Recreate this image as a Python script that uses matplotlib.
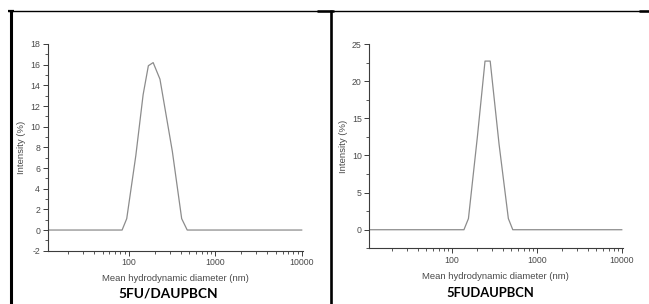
import numpy as np
import matplotlib
matplotlib.use('Agg')
import matplotlib.pyplot as plt
from matplotlib.lines import Line2D
from matplotlib.ticker import LogLocator, FixedLocator, NullFormatter, MultipleLocator

###################################################################################################
# DLS size distributions

# 5FU/DAUPBCN
size_a = [11.6, 30, 60, 84, 95, 121, 147, 169, 192, 230, 320, 410, 475, 1000, 3000, 10000]
intensity_a = [0, 0, 0, 0, 1.1, 7.2, 13.1, 15.9, 16.2, 14.6, 7.6, 1.1, 0, 0, 0, 0]

# 5FUDAUPBCN
size_b = [10.7, 30, 80, 139, 157, 200, 246, 283, 360, 463, 522, 1000, 3000, 10000]
intensity_b = [0, 0, 0, 0, 1.5, 12.5, 22.7, 22.7, 11.5, 1.5, 0, 0, 0, 0]

captions = ['5FU/DAUPBCN', '5FUDAUPBCN']
x_ticks = [100, 1000, 10000]

###################################################################################################

text_grey = '#4a4a4a'
axis_grey = '#3c3c3c'
line_grey = '#8c8c8c'

plt.rcParams['font.family'] = ['Liberation Sans', 'DejaVu Sans']
plt.rcParams['axes.unicode_minus'] = False

fig = plt.figure(figsize=(6.49, 3.04), dpi=100)


def style_axis(ax, xlim, ylim, major_y, minor_y):
    ax.set_xscale('log')
    ax.set_xlim(*xlim)
    ax.set_ylim(*ylim)
    ax.xaxis.set_major_locator(FixedLocator(x_ticks))
    ax.set_xticklabels([str(t) for t in x_ticks])
    ax.xaxis.set_minor_locator(LogLocator(base=10, subs=np.arange(2, 10)))
    ax.xaxis.set_minor_formatter(NullFormatter())
    ax.yaxis.set_major_locator(MultipleLocator(major_y))
    ax.yaxis.set_minor_locator(MultipleLocator(minor_y))
    for side in ['top', 'right']:
        ax.spines[side].set_visible(False)
    for side in ['left', 'bottom']:
        ax.spines[side].set_color(axis_grey)
        ax.spines[side].set_linewidth(0.8)
    ax.tick_params(which='major', direction='out', length=3.5, width=0.7,
                   color=axis_grey, labelsize=6.3, labelcolor=text_grey, pad=2)
    ax.tick_params(which='minor', direction='out', length=2, width=0.6, color=axis_grey)
    ax.set_xlabel('Mean hydrodynamic diameter (nm)', fontsize=6.8, color=text_grey, labelpad=5)
    ax.set_ylabel('Intensity (%)', fontsize=6.8, color=text_grey, labelpad=3)
    ax.set_facecolor('none')


# Left panel
ax1 = fig.add_axes([47.7 / 649, 1 - 250.7 / 304, (303 - 47.7) / 649, (250.7 - 44) / 304])
ax1.plot(size_a, intensity_a, color=line_grey, linewidth=0.9)
style_axis(ax1, (11.6, 10350), (-2, 18), 2, 1)

# Right panel
ax2 = fig.add_axes([369.3 / 649, 1 - 248.3 / 304, (622.5 - 369.3) / 649, (248.3 - 44) / 304])
ax2.plot(size_b, intensity_b, color=line_grey, linewidth=0.9)
style_axis(ax2, (10.7, 10200), (-2.5, 25), 5, 2.5)

# Captions under each panel
fig.text(168 / 649, 1 - 293 / 304, captions[0], ha='center', va='center',
         fontsize=9.8, weight='bold', family=['Lato', 'DejaVu Sans'], color='black')
fig.text(490 / 649, 1 - 293 / 304, captions[1], ha='center', va='center',
         fontsize=9.4, weight='bold', family=['Lato', 'DejaVu Sans'], color='black')

# Table borders around the two cells
W, H = 649.0, 304.0
border = dict(color='black', solid_capstyle='butt')
fig.add_artist(Line2D([8 / W, 1.0], [1 - 10.8 / H] * 2, linewidth=1.0, **border))
fig.add_artist(Line2D([8 / W, 14 / W], [1 - 11.0 / H] * 2, linewidth=1.6, **border))
fig.add_artist(Line2D([317 / W, 334 / W], [1 - 11.2 / H] * 2, linewidth=1.8, **border))
fig.add_artist(Line2D([639 / W, 1.0], [1 - 11.2 / H] * 2, linewidth=1.8, **border))
fig.add_artist(Line2D([10.6 / W] * 2, [0, 1 - 10.3 / H], linewidth=2.2, **border))
fig.add_artist(Line2D([331.3 / W] * 2, [0, 1 - 10.3 / H], linewidth=1.9, **border))

plt.savefig('out.png', dpi=100)
